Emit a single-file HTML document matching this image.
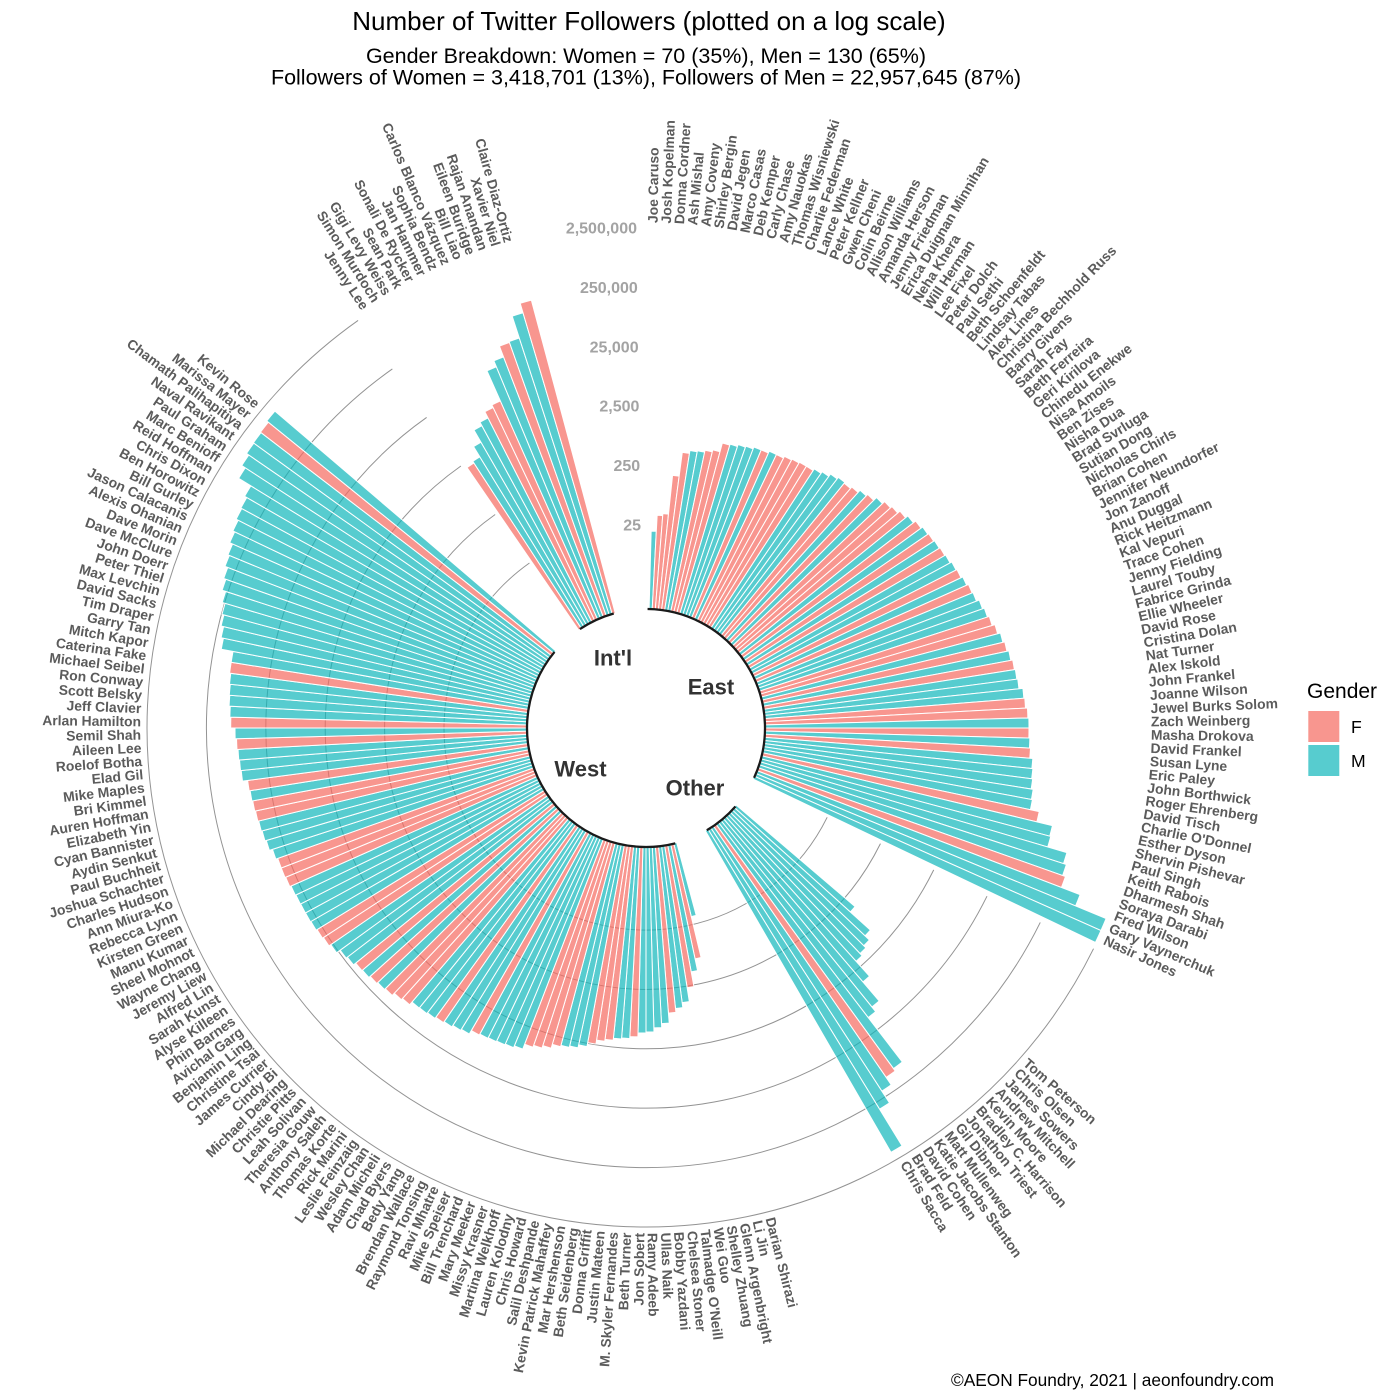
<!DOCTYPE html>
<html><head><meta charset="utf-8"><style>
html,body{margin:0;padding:0;background:#fff}
svg{display:block}
.b path{stroke:#fff;stroke-width:1;vector-effect:non-scaling-stroke}
.f{fill:rgb(245,105,95);fill-opacity:.7}
.m{fill:rgb(15,182,186);fill-opacity:.7}
.n text{font-family:"Liberation Sans",Arial,sans-serif;font-weight:bold;font-size:13.9px;fill:#5b5b5b;dominant-baseline:central}
.n text.l{text-anchor:end}
.t text{font-family:"Liberation Sans",Arial,sans-serif;font-weight:bold;font-size:16px;fill:#a3a3a3;text-anchor:end;dominant-baseline:central}
.g text{font-family:"Liberation Sans",Arial,sans-serif;font-weight:bold;font-size:22px;fill:#333;text-anchor:middle;dominant-baseline:central}
.h text{font-family:"Liberation Sans",Arial,sans-serif;fill:#000}
</style></head><body>
<svg width="1400" height="1400" viewBox="0 0 1400 1400" xmlns="http://www.w3.org/2000/svg">
<rect width="1400" height="1400" fill="#fff"/>
<g fill="none" stroke="#939393" stroke-width="1">
<path d="M827.17 817.34A202 202 0 1 1 529.45 563.01"/>
<path d="M880.44 843.61A261.4 261.4 0 1 1 495.17 514.49"/>
<path d="M933.72 869.89A320.8 320.8 0 1 1 460.90 465.98"/>
<path d="M986.99 896.16A380.2 380.2 0 1 1 426.62 417.46"/>
<path d="M1040.26 922.43A439.6 439.6 0 1 1 392.35 368.94"/>
<path d="M1093.54 948.70A499 499 0 1 1 358.08 320.43"/>
</g>
<g class="b" transform="translate(646 728)">
<path class="m" transform="rotate(2.25)scale(197)" d="M0 0L-.01309-.99991A1 1 0 0 1 .01309-.99991Z"/>
<path class="f" transform="rotate(3.75)scale(213)" d="M0 0L-.01309-.99991A1 1 0 0 1 .01309-.99991Z"/>
<path class="f" transform="rotate(5.25)scale(215)" d="M0 0L-.01309-.99991A1 1 0 0 1 .01309-.99991Z"/>
<path class="f" transform="rotate(6.75)scale(254)" d="M0 0L-.01309-.99991A1 1 0 0 1 .01309-.99991Z"/>
<path class="f" transform="rotate(8.25)scale(278)" d="M0 0L-.01309-.99991A1 1 0 0 1 .01309-.99991Z"/>
<path class="m" transform="rotate(9.75)scale(281)" d="M0 0L-.01309-.99991A1 1 0 0 1 .01309-.99991Z"/>
<path class="m" transform="rotate(11.25)scale(282)" d="M0 0L-.01309-.99991A1 1 0 0 1 .01309-.99991Z"/>
<path class="f" transform="rotate(12.75)scale(284)" d="M0 0L-.01309-.99991A1 1 0 0 1 .01309-.99991Z"/>
<path class="f" transform="rotate(14.25)scale(286)" d="M0 0L-.01309-.99991A1 1 0 0 1 .01309-.99991Z"/>
<path class="f" transform="rotate(15.75)scale(295)" d="M0 0L-.01309-.99991A1 1 0 0 1 .01309-.99991Z"/>
<path class="m" transform="rotate(17.25)scale(296)" d="M0 0L-.01309-.99991A1 1 0 0 1 .01309-.99991Z"/>
<path class="m" transform="rotate(18.75)scale(298)" d="M0 0L-.01309-.99991A1 1 0 0 1 .01309-.99991Z"/>
<path class="m" transform="rotate(20.25)scale(299)" d="M0 0L-.01309-.99991A1 1 0 0 1 .01309-.99991Z"/>
<path class="m" transform="rotate(21.75)scale(301)" d="M0 0L-.01309-.99991A1 1 0 0 1 .01309-.99991Z"/>
<path class="f" transform="rotate(23.25)scale(301)" d="M0 0L-.01309-.99991A1 1 0 0 1 .01309-.99991Z"/>
<path class="m" transform="rotate(24.75)scale(303)" d="M0 0L-.01309-.99991A1 1 0 0 1 .01309-.99991Z"/>
<path class="f" transform="rotate(26.25)scale(303)" d="M0 0L-.01309-.99991A1 1 0 0 1 .01309-.99991Z"/>
<path class="f" transform="rotate(27.75)scale(305)" d="M0 0L-.01309-.99991A1 1 0 0 1 .01309-.99991Z"/>
<path class="f" transform="rotate(29.25)scale(306)" d="M0 0L-.01309-.99991A1 1 0 0 1 .01309-.99991Z"/>
<path class="f" transform="rotate(30.75)scale(307)" d="M0 0L-.01309-.99991A1 1 0 0 1 .01309-.99991Z"/>
<path class="f" transform="rotate(32.25)scale(307)" d="M0 0L-.01309-.99991A1 1 0 0 1 .01309-.99991Z"/>
<path class="m" transform="rotate(33.75)scale(309)" d="M0 0L-.01309-.99991A1 1 0 0 1 .01309-.99991Z"/>
<path class="m" transform="rotate(35.25)scale(311)" d="M0 0L-.01309-.99991A1 1 0 0 1 .01309-.99991Z"/>
<path class="m" transform="rotate(36.75)scale(314)" d="M0 0L-.01309-.99991A1 1 0 0 1 .01309-.99991Z"/>
<path class="m" transform="rotate(38.25)scale(316)" d="M0 0L-.01309-.99991A1 1 0 0 1 .01309-.99991Z"/>
<path class="f" transform="rotate(39.75)scale(315)" d="M0 0L-.01309-.99991A1 1 0 0 1 .01309-.99991Z"/>
<path class="f" transform="rotate(41.25)scale(317)" d="M0 0L-.01309-.99991A1 1 0 0 1 .01309-.99991Z"/>
<path class="m" transform="rotate(42.75)scale(320)" d="M0 0L-.01309-.99991A1 1 0 0 1 .01309-.99991Z"/>
<path class="f" transform="rotate(44.25)scale(322)" d="M0 0L-.01309-.99991A1 1 0 0 1 .01309-.99991Z"/>
<path class="m" transform="rotate(45.75)scale(326)" d="M0 0L-.01309-.99991A1 1 0 0 1 .01309-.99991Z"/>
<path class="f" transform="rotate(47.25)scale(329)" d="M0 0L-.01309-.99991A1 1 0 0 1 .01309-.99991Z"/>
<path class="f" transform="rotate(48.75)scale(331)" d="M0 0L-.01309-.99991A1 1 0 0 1 .01309-.99991Z"/>
<path class="f" transform="rotate(50.25)scale(334)" d="M0 0L-.01309-.99991A1 1 0 0 1 .01309-.99991Z"/>
<path class="m" transform="rotate(51.75)scale(337)" d="M0 0L-.01309-.99991A1 1 0 0 1 .01309-.99991Z"/>
<path class="f" transform="rotate(53.25)scale(340)" d="M0 0L-.01309-.99991A1 1 0 0 1 .01309-.99991Z"/>
<path class="m" transform="rotate(54.75)scale(342)" d="M0 0L-.01309-.99991A1 1 0 0 1 .01309-.99991Z"/>
<path class="f" transform="rotate(56.25)scale(343)" d="M0 0L-.01309-.99991A1 1 0 0 1 .01309-.99991Z"/>
<path class="m" transform="rotate(57.75)scale(344)" d="M0 0L-.01309-.99991A1 1 0 0 1 .01309-.99991Z"/>
<path class="f" transform="rotate(59.25)scale(345)" d="M0 0L-.01309-.99991A1 1 0 0 1 .01309-.99991Z"/>
<path class="m" transform="rotate(60.75)scale(346)" d="M0 0L-.01309-.99991A1 1 0 0 1 .01309-.99991Z"/>
<path class="m" transform="rotate(62.25)scale(348)" d="M0 0L-.01309-.99991A1 1 0 0 1 .01309-.99991Z"/>
<path class="f" transform="rotate(63.75)scale(349)" d="M0 0L-.01309-.99991A1 1 0 0 1 .01309-.99991Z"/>
<path class="m" transform="rotate(65.25)scale(351)" d="M0 0L-.01309-.99991A1 1 0 0 1 .01309-.99991Z"/>
<path class="f" transform="rotate(66.75)scale(353)" d="M0 0L-.01309-.99991A1 1 0 0 1 .01309-.99991Z"/>
<path class="m" transform="rotate(68.25)scale(354)" d="M0 0L-.01309-.99991A1 1 0 0 1 .01309-.99991Z"/>
<path class="m" transform="rotate(69.75)scale(357)" d="M0 0L-.01309-.99991A1 1 0 0 1 .01309-.99991Z"/>
<path class="m" transform="rotate(71.25)scale(359)" d="M0 0L-.01309-.99991A1 1 0 0 1 .01309-.99991Z"/>
<path class="f" transform="rotate(72.75)scale(361)" d="M0 0L-.01309-.99991A1 1 0 0 1 .01309-.99991Z"/>
<path class="f" transform="rotate(74.25)scale(364)" d="M0 0L-.01309-.99991A1 1 0 0 1 .01309-.99991Z"/>
<path class="m" transform="rotate(75.75)scale(367)" d="M0 0L-.01309-.99991A1 1 0 0 1 .01309-.99991Z"/>
<path class="f" transform="rotate(77.25)scale(369)" d="M0 0L-.01309-.99991A1 1 0 0 1 .01309-.99991Z"/>
<path class="m" transform="rotate(78.75)scale(371)" d="M0 0L-.01309-.99991A1 1 0 0 1 .01309-.99991Z"/>
<path class="f" transform="rotate(80.25)scale(373)" d="M0 0L-.01309-.99991A1 1 0 0 1 .01309-.99991Z"/>
<path class="m" transform="rotate(81.75)scale(374)" d="M0 0L-.01309-.99991A1 1 0 0 1 .01309-.99991Z"/>
<path class="m" transform="rotate(83.25)scale(375)" d="M0 0L-.01309-.99991A1 1 0 0 1 .01309-.99991Z"/>
<path class="m" transform="rotate(84.75)scale(379)" d="M0 0L-.01309-.99991A1 1 0 0 1 .01309-.99991Z"/>
<path class="f" transform="rotate(86.25)scale(380)" d="M0 0L-.01309-.99991A1 1 0 0 1 .01309-.99991Z"/>
<path class="f" transform="rotate(87.75)scale(382)" d="M0 0L-.01309-.99991A1 1 0 0 1 .01309-.99991Z"/>
<path class="m" transform="rotate(89.25)scale(383)" d="M0 0L-.01309-.99991A1 1 0 0 1 .01309-.99991Z"/>
<path class="f" transform="rotate(90.75)scale(383)" d="M0 0L-.01309-.99991A1 1 0 0 1 .01309-.99991Z"/>
<path class="m" transform="rotate(92.25)scale(384)" d="M0 0L-.01309-.99991A1 1 0 0 1 .01309-.99991Z"/>
<path class="f" transform="rotate(93.75)scale(385)" d="M0 0L-.01309-.99991A1 1 0 0 1 .01309-.99991Z"/>
<path class="m" transform="rotate(95.25)scale(388)" d="M0 0L-.01309-.99991A1 1 0 0 1 .01309-.99991Z"/>
<path class="m" transform="rotate(96.75)scale(389)" d="M0 0L-.01309-.99991A1 1 0 0 1 .01309-.99991Z"/>
<path class="m" transform="rotate(98.25)scale(390)" d="M0 0L-.01309-.99991A1 1 0 0 1 .01309-.99991Z"/>
<path class="m" transform="rotate(99.75)scale(392)" d="M0 0L-.01309-.99991A1 1 0 0 1 .01309-.99991Z"/>
<path class="m" transform="rotate(101.25)scale(393)" d="M0 0L-.01309-.99991A1 1 0 0 1 .01309-.99991Z"/>
<path class="f" transform="rotate(102.75)scale(402)" d="M0 0L-.01309-.99991A1 1 0 0 1 .01309-.99991Z"/>
<path class="m" transform="rotate(104.25)scale(418)" d="M0 0L-.01309-.99991A1 1 0 0 1 .01309-.99991Z"/>
<path class="m" transform="rotate(105.75)scale(419)" d="M0 0L-.01309-.99991A1 1 0 0 1 .01309-.99991Z"/>
<path class="m" transform="rotate(107.25)scale(439)" d="M0 0L-.01309-.99991A1 1 0 0 1 .01309-.99991Z"/>
<path class="m" transform="rotate(108.75)scale(442)" d="M0 0L-.01309-.99991A1 1 0 0 1 .01309-.99991Z"/>
<path class="f" transform="rotate(110.25)scale(445)" d="M0 0L-.01309-.99991A1 1 0 0 1 .01309-.99991Z"/>
<path class="m" transform="rotate(111.75)scale(465)" d="M0 0L-.01309-.99991A1 1 0 0 1 .01309-.99991Z"/>
<path class="m" transform="rotate(113.25)scale(498)" d="M0 0L-.01309-.99991A1 1 0 0 1 .01309-.99991Z"/>
<path class="m" transform="rotate(114.75)scale(498)" d="M0 0L-.01309-.99991A1 1 0 0 1 .01309-.99991Z"/>
<path class="m" transform="rotate(131.25)scale(275)" d="M0 0L-.01309-.99991A1 1 0 0 1 .01309-.99991Z"/>
<path class="m" transform="rotate(132.75)scale(302)" d="M0 0L-.01309-.99991A1 1 0 0 1 .01309-.99991Z"/>
<path class="m" transform="rotate(134.25)scale(308)" d="M0 0L-.01309-.99991A1 1 0 0 1 .01309-.99991Z"/>
<path class="m" transform="rotate(135.75)scale(311)" d="M0 0L-.01309-.99991A1 1 0 0 1 .01309-.99991Z"/>
<path class="m" transform="rotate(137.25)scale(314)" d="M0 0L-.01309-.99991A1 1 0 0 1 .01309-.99991Z"/>
<path class="m" transform="rotate(138.75)scale(334)" d="M0 0L-.01309-.99991A1 1 0 0 1 .01309-.99991Z"/>
<path class="m" transform="rotate(140.25)scale(359)" d="M0 0L-.01309-.99991A1 1 0 0 1 .01309-.99991Z"/>
<path class="m" transform="rotate(141.75)scale(365)" d="M0 0L-.01309-.99991A1 1 0 0 1 .01309-.99991Z"/>
<path class="m" transform="rotate(143.25)scale(421)" d="M0 0L-.01309-.99991A1 1 0 0 1 .01309-.99991Z"/>
<path class="f" transform="rotate(144.75)scale(424)" d="M0 0L-.01309-.99991A1 1 0 0 1 .01309-.99991Z"/>
<path class="m" transform="rotate(146.25)scale(433)" d="M0 0L-.01309-.99991A1 1 0 0 1 .01309-.99991Z"/>
<path class="m" transform="rotate(147.75)scale(447)" d="M0 0L-.01309-.99991A1 1 0 0 1 .01309-.99991Z"/>
<path class="m" transform="rotate(149.25)scale(490)" d="M0 0L-.01309-.99991A1 1 0 0 1 .01309-.99991Z"/>
<path class="m" transform="rotate(165.75)scale(194)" d="M0 0L-.01309-.99991A1 1 0 0 1 .01309-.99991Z"/>
<path class="f" transform="rotate(167.25)scale(236)" d="M0 0L-.01309-.99991A1 1 0 0 1 .01309-.99991Z"/>
<path class="m" transform="rotate(168.75)scale(248)" d="M0 0L-.01309-.99991A1 1 0 0 1 .01309-.99991Z"/>
<path class="f" transform="rotate(170.25)scale(263)" d="M0 0L-.01309-.99991A1 1 0 0 1 .01309-.99991Z"/>
<path class="m" transform="rotate(171.75)scale(277)" d="M0 0L-.01309-.99991A1 1 0 0 1 .01309-.99991Z"/>
<path class="m" transform="rotate(173.25)scale(282)" d="M0 0L-.01309-.99991A1 1 0 0 1 .01309-.99991Z"/>
<path class="f" transform="rotate(174.75)scale(286)" d="M0 0L-.01309-.99991A1 1 0 0 1 .01309-.99991Z"/>
<path class="m" transform="rotate(176.25)scale(296)" d="M0 0L-.01309-.99991A1 1 0 0 1 .01309-.99991Z"/>
<path class="m" transform="rotate(177.75)scale(300)" d="M0 0L-.01309-.99991A1 1 0 0 1 .01309-.99991Z"/>
<path class="m" transform="rotate(179.25)scale(304)" d="M0 0L-.01309-.99991A1 1 0 0 1 .01309-.99991Z"/>
<path class="m" transform="rotate(180.75)scale(305)" d="M0 0L-.01309-.99991A1 1 0 0 1 .01309-.99991Z"/>
<path class="f" transform="rotate(182.25)scale(309)" d="M0 0L-.01309-.99991A1 1 0 0 1 .01309-.99991Z"/>
<path class="m" transform="rotate(183.75)scale(311)" d="M0 0L-.01309-.99991A1 1 0 0 1 .01309-.99991Z"/>
<path class="m" transform="rotate(185.25)scale(312)" d="M0 0L-.01309-.99991A1 1 0 0 1 .01309-.99991Z"/>
<path class="f" transform="rotate(186.75)scale(314)" d="M0 0L-.01309-.99991A1 1 0 0 1 .01309-.99991Z"/>
<path class="f" transform="rotate(188.25)scale(316)" d="M0 0L-.01309-.99991A1 1 0 0 1 .01309-.99991Z"/>
<path class="f" transform="rotate(189.75)scale(320)" d="M0 0L-.01309-.99991A1 1 0 0 1 .01309-.99991Z"/>
<path class="m" transform="rotate(191.25)scale(324)" d="M0 0L-.01309-.99991A1 1 0 0 1 .01309-.99991Z"/>
<path class="m" transform="rotate(192.75)scale(327)" d="M0 0L-.01309-.99991A1 1 0 0 1 .01309-.99991Z"/>
<path class="m" transform="rotate(194.25)scale(328.5)" d="M0 0L-.01309-.99991A1 1 0 0 1 .01309-.99991Z"/>
<path class="f" transform="rotate(195.75)scale(330)" d="M0 0L-.01309-.99991A1 1 0 0 1 .01309-.99991Z"/>
<path class="f" transform="rotate(197.25)scale(334)" d="M0 0L-.01309-.99991A1 1 0 0 1 .01309-.99991Z"/>
<path class="f" transform="rotate(198.75)scale(336.6)" d="M0 0L-.01309-.99991A1 1 0 0 1 .01309-.99991Z"/>
<path class="f" transform="rotate(200.25)scale(338.7)" d="M0 0L-.01309-.99991A1 1 0 0 1 .01309-.99991Z"/>
<path class="m" transform="rotate(201.75)scale(344)" d="M0 0L-.01309-.99991A1 1 0 0 1 .01309-.99991Z"/>
<path class="m" transform="rotate(203.25)scale(346)" d="M0 0L-.01309-.99991A1 1 0 0 1 .01309-.99991Z"/>
<path class="m" transform="rotate(204.75)scale(346.8)" d="M0 0L-.01309-.99991A1 1 0 0 1 .01309-.99991Z"/>
<path class="m" transform="rotate(206.25)scale(347.6)" d="M0 0L-.01309-.99991A1 1 0 0 1 .01309-.99991Z"/>
<path class="m" transform="rotate(207.75)scale(348.3)" d="M0 0L-.01309-.99991A1 1 0 0 1 .01309-.99991Z"/>
<path class="f" transform="rotate(209.25)scale(349.4)" d="M0 0L-.01309-.99991A1 1 0 0 1 .01309-.99991Z"/>
<path class="m" transform="rotate(210.75)scale(353.4)" d="M0 0L-.01309-.99991A1 1 0 0 1 .01309-.99991Z"/>
<path class="m" transform="rotate(212.25)scale(354.7)" d="M0 0L-.01309-.99991A1 1 0 0 1 .01309-.99991Z"/>
<path class="m" transform="rotate(213.75)scale(356.4)" d="M0 0L-.01309-.99991A1 1 0 0 1 .01309-.99991Z"/>
<path class="f" transform="rotate(215.25)scale(357.6)" d="M0 0L-.01309-.99991A1 1 0 0 1 .01309-.99991Z"/>
<path class="m" transform="rotate(216.75)scale(359)" d="M0 0L-.01309-.99991A1 1 0 0 1 .01309-.99991Z"/>
<path class="m" transform="rotate(218.25)scale(360)" d="M0 0L-.01309-.99991A1 1 0 0 1 .01309-.99991Z"/>
<path class="m" transform="rotate(219.75)scale(360.4)" d="M0 0L-.01309-.99991A1 1 0 0 1 .01309-.99991Z"/>
<path class="f" transform="rotate(221.25)scale(364)" d="M0 0L-.01309-.99991A1 1 0 0 1 .01309-.99991Z"/>
<path class="f" transform="rotate(222.75)scale(365.6)" d="M0 0L-.01309-.99991A1 1 0 0 1 .01309-.99991Z"/>
<path class="f" transform="rotate(224.25)scale(368.7)" d="M0 0L-.01309-.99991A1 1 0 0 1 .01309-.99991Z"/>
<path class="m" transform="rotate(225.75)scale(369.8)" d="M0 0L-.01309-.99991A1 1 0 0 1 .01309-.99991Z"/>
<path class="f" transform="rotate(227.25)scale(371.2)" d="M0 0L-.01309-.99991A1 1 0 0 1 .01309-.99991Z"/>
<path class="m" transform="rotate(228.75)scale(372.9)" d="M0 0L-.01309-.99991A1 1 0 0 1 .01309-.99991Z"/>
<path class="f" transform="rotate(230.25)scale(373.6)" d="M0 0L-.01309-.99991A1 1 0 0 1 .01309-.99991Z"/>
<path class="m" transform="rotate(231.75)scale(376.4)" d="M0 0L-.01309-.99991A1 1 0 0 1 .01309-.99991Z"/>
<path class="m" transform="rotate(233.25)scale(378)" d="M0 0L-.01309-.99991A1 1 0 0 1 .01309-.99991Z"/>
<path class="m" transform="rotate(234.75)scale(382.5)" d="M0 0L-.01309-.99991A1 1 0 0 1 .01309-.99991Z"/>
<path class="f" transform="rotate(236.25)scale(384.7)" d="M0 0L-.01309-.99991A1 1 0 0 1 .01309-.99991Z"/>
<path class="f" transform="rotate(237.75)scale(385.8)" d="M0 0L-.01309-.99991A1 1 0 0 1 .01309-.99991Z"/>
<path class="m" transform="rotate(239.25)scale(386.9)" d="M0 0L-.01309-.99991A1 1 0 0 1 .01309-.99991Z"/>
<path class="m" transform="rotate(240.75)scale(387.5)" d="M0 0L-.01309-.99991A1 1 0 0 1 .01309-.99991Z"/>
<path class="m" transform="rotate(242.25)scale(387.6)" d="M0 0L-.01309-.99991A1 1 0 0 1 .01309-.99991Z"/>
<path class="m" transform="rotate(243.75)scale(387.9)" d="M0 0L-.01309-.99991A1 1 0 0 1 .01309-.99991Z"/>
<path class="m" transform="rotate(245.25)scale(388.5)" d="M0 0L-.01309-.99991A1 1 0 0 1 .01309-.99991Z"/>
<path class="f" transform="rotate(246.75)scale(390)" d="M0 0L-.01309-.99991A1 1 0 0 1 .01309-.99991Z"/>
<path class="f" transform="rotate(248.25)scale(390.7)" d="M0 0L-.01309-.99991A1 1 0 0 1 .01309-.99991Z"/>
<path class="f" transform="rotate(249.75)scale(390.7)" d="M0 0L-.01309-.99991A1 1 0 0 1 .01309-.99991Z"/>
<path class="m" transform="rotate(251.25)scale(392.7)" d="M0 0L-.01309-.99991A1 1 0 0 1 .01309-.99991Z"/>
<path class="m" transform="rotate(252.75)scale(396)" d="M0 0L-.01309-.99991A1 1 0 0 1 .01309-.99991Z"/>
<path class="m" transform="rotate(254.25)scale(397.4)" d="M0 0L-.01309-.99991A1 1 0 0 1 .01309-.99991Z"/>
<path class="m" transform="rotate(255.75)scale(398.3)" d="M0 0L-.01309-.99991A1 1 0 0 1 .01309-.99991Z"/>
<path class="f" transform="rotate(257.25)scale(399.2)" d="M0 0L-.01309-.99991A1 1 0 0 1 .01309-.99991Z"/>
<path class="f" transform="rotate(258.75)scale(400)" d="M0 0L-.01309-.99991A1 1 0 0 1 .01309-.99991Z"/>
<path class="m" transform="rotate(260.25)scale(400.8)" d="M0 0L-.01309-.99991A1 1 0 0 1 .01309-.99991Z"/>
<path class="f" transform="rotate(261.75)scale(401.8)" d="M0 0L-.01309-.99991A1 1 0 0 1 .01309-.99991Z"/>
<path class="m" transform="rotate(263.25)scale(407)" d="M0 0L-.01309-.99991A1 1 0 0 1 .01309-.99991Z"/>
<path class="m" transform="rotate(264.75)scale(407.7)" d="M0 0L-.01309-.99991A1 1 0 0 1 .01309-.99991Z"/>
<path class="m" transform="rotate(266.25)scale(408.5)" d="M0 0L-.01309-.99991A1 1 0 0 1 .01309-.99991Z"/>
<path class="f" transform="rotate(267.75)scale(409.6)" d="M0 0L-.01309-.99991A1 1 0 0 1 .01309-.99991Z"/>
<path class="m" transform="rotate(269.25)scale(411)" d="M0 0L-.01309-.99991A1 1 0 0 1 .01309-.99991Z"/>
<path class="f" transform="rotate(270.75)scale(415.3)" d="M0 0L-.01309-.99991A1 1 0 0 1 .01309-.99991Z"/>
<path class="m" transform="rotate(272.25)scale(416.3)" d="M0 0L-.01309-.99991A1 1 0 0 1 .01309-.99991Z"/>
<path class="m" transform="rotate(273.75)scale(417.5)" d="M0 0L-.01309-.99991A1 1 0 0 1 .01309-.99991Z"/>
<path class="m" transform="rotate(275.25)scale(418)" d="M0 0L-.01309-.99991A1 1 0 0 1 .01309-.99991Z"/>
<path class="m" transform="rotate(276.75)scale(418.8)" d="M0 0L-.01309-.99991A1 1 0 0 1 .01309-.99991Z"/>
<path class="f" transform="rotate(278.25)scale(420)" d="M0 0L-.01309-.99991A1 1 0 0 1 .01309-.99991Z"/>
<path class="m" transform="rotate(279.75)scale(420)" d="M0 0L-.01309-.99991A1 1 0 0 1 .01309-.99991Z"/>
<path class="m" transform="rotate(281.25)scale(432)" d="M0 0L-.01309-.99991A1 1 0 0 1 .01309-.99991Z"/>
<path class="m" transform="rotate(282.75)scale(434.4)" d="M0 0L-.01309-.99991A1 1 0 0 1 .01309-.99991Z"/>
<path class="m" transform="rotate(284.25)scale(437)" d="M0 0L-.01309-.99991A1 1 0 0 1 .01309-.99991Z"/>
<path class="m" transform="rotate(285.75)scale(439)" d="M0 0L-.01309-.99991A1 1 0 0 1 .01309-.99991Z"/>
<path class="m" transform="rotate(287.25)scale(442)" d="M0 0L-.01309-.99991A1 1 0 0 1 .01309-.99991Z"/>
<path class="m" transform="rotate(288.75)scale(445.7)" d="M0 0L-.01309-.99991A1 1 0 0 1 .01309-.99991Z"/>
<path class="m" transform="rotate(290.25)scale(448)" d="M0 0L-.01309-.99991A1 1 0 0 1 .01309-.99991Z"/>
<path class="m" transform="rotate(291.75)scale(451)" d="M0 0L-.01309-.99991A1 1 0 0 1 .01309-.99991Z"/>
<path class="m" transform="rotate(293.25)scale(452.5)" d="M0 0L-.01309-.99991A1 1 0 0 1 .01309-.99991Z"/>
<path class="m" transform="rotate(294.75)scale(455.7)" d="M0 0L-.01309-.99991A1 1 0 0 1 .01309-.99991Z"/>
<path class="m" transform="rotate(296.25)scale(457.7)" d="M0 0L-.01309-.99991A1 1 0 0 1 .01309-.99991Z"/>
<path class="m" transform="rotate(297.75)scale(460)" d="M0 0L-.01309-.99991A1 1 0 0 1 .01309-.99991Z"/>
<path class="m" transform="rotate(299.25)scale(461)" d="M0 0L-.01309-.99991A1 1 0 0 1 .01309-.99991Z"/>
<path class="m" transform="rotate(300.75)scale(463.5)" d="M0 0L-.01309-.99991A1 1 0 0 1 .01309-.99991Z"/>
<path class="m" transform="rotate(302.25)scale(477.8)" d="M0 0L-.01309-.99991A1 1 0 0 1 .01309-.99991Z"/>
<path class="m" transform="rotate(303.75)scale(482)" d="M0 0L-.01309-.99991A1 1 0 0 1 .01309-.99991Z"/>
<path class="m" transform="rotate(305.25)scale(484.8)" d="M0 0L-.01309-.99991A1 1 0 0 1 .01309-.99991Z"/>
<path class="m" transform="rotate(306.75)scale(485.3)" d="M0 0L-.01309-.99991A1 1 0 0 1 .01309-.99991Z"/>
<path class="f" transform="rotate(308.25)scale(486)" d="M0 0L-.01309-.99991A1 1 0 0 1 .01309-.99991Z"/>
<path class="m" transform="rotate(309.75)scale(488)" d="M0 0L-.01309-.99991A1 1 0 0 1 .01309-.99991Z"/>
<path class="f" transform="rotate(326.25)scale(316)" d="M0 0L-.01309-.99991A1 1 0 0 1 .01309-.99991Z"/>
<path class="m" transform="rotate(327.75)scale(318)" d="M0 0L-.01309-.99991A1 1 0 0 1 .01309-.99991Z"/>
<path class="m" transform="rotate(329.25)scale(330)" d="M0 0L-.01309-.99991A1 1 0 0 1 .01309-.99991Z"/>
<path class="m" transform="rotate(330.75)scale(344)" d="M0 0L-.01309-.99991A1 1 0 0 1 .01309-.99991Z"/>
<path class="m" transform="rotate(332.25)scale(348)" d="M0 0L-.01309-.99991A1 1 0 0 1 .01309-.99991Z"/>
<path class="f" transform="rotate(333.75)scale(355)" d="M0 0L-.01309-.99991A1 1 0 0 1 .01309-.99991Z"/>
<path class="f" transform="rotate(335.25)scale(358)" d="M0 0L-.01309-.99991A1 1 0 0 1 .01309-.99991Z"/>
<path class="m" transform="rotate(336.75)scale(391)" d="M0 0L-.01309-.99991A1 1 0 0 1 .01309-.99991Z"/>
<path class="m" transform="rotate(338.25)scale(397.5)" d="M0 0L-.01309-.99991A1 1 0 0 1 .01309-.99991Z"/>
<path class="f" transform="rotate(339.75)scale(409)" d="M0 0L-.01309-.99991A1 1 0 0 1 .01309-.99991Z"/>
<path class="m" transform="rotate(341.25)scale(410)" d="M0 0L-.01309-.99991A1 1 0 0 1 .01309-.99991Z"/>
<path class="m" transform="rotate(342.75)scale(433)" d="M0 0L-.01309-.99991A1 1 0 0 1 .01309-.99991Z"/>
<path class="f" transform="rotate(344.25)scale(443)" d="M0 0L-.01309-.99991A1 1 0 0 1 .01309-.99991Z"/>
</g>
<circle cx="646" cy="728" r="119" fill="#fff"/>
<g fill="none" stroke="#1a1a1a" stroke-width="2.3">
<path d="M647.56 609.01A119 119 0 0 1 754.07 777.82"/>
<path d="M735.47 806.46A119 119 0 0 1 706.84 830.27"/>
<path d="M675.29 843.34A119 119 0 0 1 554.49 651.93"/>
<path d="M579.89 629.06A119 119 0 0 1 613.70 613.47"/>
</g>
<g class="t">
<text x="641" y="526">25</text>
<text x="640.2" y="466.6">250</text>
<text x="639.4" y="407.2">2,500</text>
<text x="638.6" y="347.8">25,000</text>
<text x="637.8" y="288.4">250,000</text>
<text x="637" y="229">2,500,000</text>
</g>
<g class="g">
<text x="613" y="658">Int'l</text>
<text x="711" y="687">East</text>
<text x="580.5" y="769">West</text>
<text x="695" y="788">Other</text>
</g>
<g class="n" transform="translate(646 728)">
<text transform="rotate(-89.25)" x="505">Joe Caruso</text>
<text transform="rotate(-87.75)" x="505">Josh Kopelman</text>
<text transform="rotate(-86.25)" x="505">Donna Cordner</text>
<text transform="rotate(-84.75)" x="505">Ash Mishal</text>
<text transform="rotate(-83.25)" x="505">Amy Coveny</text>
<text transform="rotate(-81.75)" x="505">Shirley Bergin</text>
<text transform="rotate(-80.25)" x="505">David Jegen</text>
<text transform="rotate(-78.75)" x="505">Marco Casas</text>
<text transform="rotate(-77.25)" x="505">Deb Kemper</text>
<text transform="rotate(-75.75)" x="505">Carly Chase</text>
<text transform="rotate(-74.25)" x="505">Amy Nauokas</text>
<text transform="rotate(-72.75)" x="505">Thomas Wisniewski</text>
<text transform="rotate(-71.25)" x="505">Charlie Federman</text>
<text transform="rotate(-69.75)" x="505">Lance White</text>
<text transform="rotate(-68.25)" x="505">Peter Kellner</text>
<text transform="rotate(-66.75)" x="505">Gwen Cheni</text>
<text transform="rotate(-65.25)" x="505">Colin Beirne</text>
<text transform="rotate(-63.75)" x="505">Allison Williams</text>
<text transform="rotate(-62.25)" x="505">Amanda Herson</text>
<text transform="rotate(-60.75)" x="505">Jenny Friedman</text>
<text transform="rotate(-59.25)" x="505">Erica Duignan Minnihan</text>
<text transform="rotate(-57.75)" x="505">Neha Khera</text>
<text transform="rotate(-56.25)" x="505">Will Herman</text>
<text transform="rotate(-54.75)" x="505">Lee Fixel</text>
<text transform="rotate(-53.25)" x="505">Peter Dolch</text>
<text transform="rotate(-51.75)" x="505">Paul Sethi</text>
<text transform="rotate(-50.25)" x="505">Beth Schoenfeldt</text>
<text transform="rotate(-48.75)" x="505">Lindsay Tabas</text>
<text transform="rotate(-47.25)" x="505">Alex Lines</text>
<text transform="rotate(-45.75)" x="505">Christina Bechhold Russ</text>
<text transform="rotate(-44.25)" x="505">Barry Givens</text>
<text transform="rotate(-42.75)" x="505">Sarah Fay</text>
<text transform="rotate(-41.25)" x="505">Beth Ferreira</text>
<text transform="rotate(-39.75)" x="505">Geri Kirilova</text>
<text transform="rotate(-38.25)" x="505">Chinedu Enekwe</text>
<text transform="rotate(-36.75)" x="505">Nisa Amoils</text>
<text transform="rotate(-35.25)" x="505">Ben Zises</text>
<text transform="rotate(-33.75)" x="505">Nisha Dua</text>
<text transform="rotate(-32.25)" x="505">Brad Svrluga</text>
<text transform="rotate(-30.75)" x="505">Sutian Dong</text>
<text transform="rotate(-29.25)" x="505">Nicholas Chirls</text>
<text transform="rotate(-27.75)" x="505">Brian Cohen</text>
<text transform="rotate(-26.25)" x="505">Jennifer Neundorfer</text>
<text transform="rotate(-24.75)" x="505">Jon Zanoff</text>
<text transform="rotate(-23.25)" x="505">Anu Duggal</text>
<text transform="rotate(-21.75)" x="505">Rick Heitzmann</text>
<text transform="rotate(-20.25)" x="505">Kal Vepuri</text>
<text transform="rotate(-18.75)" x="505">Trace Cohen</text>
<text transform="rotate(-17.25)" x="505">Jenny Fielding</text>
<text transform="rotate(-15.75)" x="505">Laurel Touby</text>
<text transform="rotate(-14.25)" x="505">Fabrice Grinda</text>
<text transform="rotate(-12.75)" x="505">Ellie Wheeler</text>
<text transform="rotate(-11.25)" x="505">David Rose</text>
<text transform="rotate(-9.75)" x="505">Cristina Dolan</text>
<text transform="rotate(-8.25)" x="505">Nat Turner</text>
<text transform="rotate(-6.75)" x="505">Alex Iskold</text>
<text transform="rotate(-5.25)" x="505">John Frankel</text>
<text transform="rotate(-3.75)" x="505">Joanne Wilson</text>
<text transform="rotate(-2.25)" x="505">Jewel Burks Solom</text>
<text transform="rotate(-0.75)" x="505">Zach Weinberg</text>
<text transform="rotate(0.75)" x="505">Masha Drokova</text>
<text transform="rotate(2.25)" x="505">David Frankel</text>
<text transform="rotate(3.75)" x="505">Susan Lyne</text>
<text transform="rotate(5.25)" x="505">Eric Paley</text>
<text transform="rotate(6.75)" x="505">John Borthwick</text>
<text transform="rotate(8.25)" x="505">Roger Ehrenberg</text>
<text transform="rotate(9.75)" x="505">David Tisch</text>
<text transform="rotate(11.25)" x="505">Charlie O'Donnel</text>
<text transform="rotate(12.75)" x="505">Esther Dyson</text>
<text transform="rotate(14.25)" x="505">Shervin Pishevar</text>
<text transform="rotate(15.75)" x="505">Paul Singh</text>
<text transform="rotate(17.25)" x="505">Keith Rabois</text>
<text transform="rotate(18.75)" x="505">Dharmesh Shah</text>
<text transform="rotate(20.25)" x="505">Soraya Darabi</text>
<text transform="rotate(21.75)" x="505">Fred Wilson</text>
<text transform="rotate(23.25)" x="505">Gary Vaynerchuk</text>
<text transform="rotate(24.75)" x="505">Nasir Jones</text>
<text transform="rotate(41.25)" x="505">Tom Peterson</text>
<text transform="rotate(42.75)" x="505">Chris Olsen</text>
<text transform="rotate(44.25)" x="505">James Sowers</text>
<text transform="rotate(45.75)" x="505">Andrew Mitchell</text>
<text transform="rotate(47.25)" x="505">Kevin Moore</text>
<text transform="rotate(48.75)" x="505">Bradley C. Harrison</text>
<text transform="rotate(50.25)" x="505">Jonathon Triest</text>
<text transform="rotate(51.75)" x="505">Gil Dibner</text>
<text transform="rotate(53.25)" x="505">Matt Mullenweg</text>
<text transform="rotate(54.75)" x="505">Katie Jacobs Stanton</text>
<text transform="rotate(56.25)" x="505">David Cohen</text>
<text transform="rotate(57.75)" x="505">Brad Feld</text>
<text transform="rotate(59.25)" x="505">Chris Sacca</text>
<text transform="rotate(75.75)" x="505">Darian Shirazi</text>
<text transform="rotate(77.25)" x="505">Li Jin</text>
<text transform="rotate(78.75)" x="505">Glenn Argenbright</text>
<text transform="rotate(80.25)" x="505">Shelley Zhuang</text>
<text transform="rotate(81.75)" x="505">Wei Guo</text>
<text transform="rotate(83.25)" x="505">Talmadge O'Neill</text>
<text transform="rotate(84.75)" x="505">Chelsea Stoner</text>
<text transform="rotate(86.25)" x="505">Bobby Yazdani</text>
<text transform="rotate(87.75)" x="505">Ullas Naik</text>
<text transform="rotate(89.25)" x="505">Ramy Adeeb</text>
<text class="l" transform="rotate(-89.25)" x="-505">Jon Sobert</text>
<text class="l" transform="rotate(-87.75)" x="-505">Beth Turner</text>
<text class="l" transform="rotate(-86.25)" x="-505">M. Skyler Fernandes</text>
<text class="l" transform="rotate(-84.75)" x="-505">Justin Mateen</text>
<text class="l" transform="rotate(-83.25)" x="-505">Donna Griffit</text>
<text class="l" transform="rotate(-81.75)" x="-505">Beth Seidenberg</text>
<text class="l" transform="rotate(-80.25)" x="-505">Mar Hershenson</text>
<text class="l" transform="rotate(-78.75)" x="-505">Kevin Patrick Mahaffey</text>
<text class="l" transform="rotate(-77.25)" x="-505">Salil Deshpande</text>
<text class="l" transform="rotate(-75.75)" x="-505">Chris Howard</text>
<text class="l" transform="rotate(-74.25)" x="-505">Lauren Kolodny</text>
<text class="l" transform="rotate(-72.75)" x="-505">Martina Welkhoff</text>
<text class="l" transform="rotate(-71.25)" x="-505">Missy Krasner</text>
<text class="l" transform="rotate(-69.75)" x="-505">Mary Meeker</text>
<text class="l" transform="rotate(-68.25)" x="-505">Bill Trenchard</text>
<text class="l" transform="rotate(-66.75)" x="-505">Mike Speiser</text>
<text class="l" transform="rotate(-65.25)" x="-505">Ravi Mhatre</text>
<text class="l" transform="rotate(-63.75)" x="-505">Raymond Tonsing</text>
<text class="l" transform="rotate(-62.25)" x="-505">Brendan Wallace</text>
<text class="l" transform="rotate(-60.75)" x="-505">Bedy Yang</text>
<text class="l" transform="rotate(-59.25)" x="-505">Chad Byers</text>
<text class="l" transform="rotate(-57.75)" x="-505">Adam Micheli</text>
<text class="l" transform="rotate(-56.25)" x="-505">Wesley Chan</text>
<text class="l" transform="rotate(-54.75)" x="-505">Leslie Feinzaig</text>
<text class="l" transform="rotate(-53.25)" x="-505">Rick Marini</text>
<text class="l" transform="rotate(-51.75)" x="-505">Thomas Korte</text>
<text class="l" transform="rotate(-50.25)" x="-505">Anthony Saleh</text>
<text class="l" transform="rotate(-48.75)" x="-505">Theresia Gouw</text>
<text class="l" transform="rotate(-47.25)" x="-505">Leah Solivan</text>
<text class="l" transform="rotate(-45.75)" x="-505">Christie Pitts</text>
<text class="l" transform="rotate(-44.25)" x="-505">Michael Dearing</text>
<text class="l" transform="rotate(-42.75)" x="-505">Cindy Bi</text>
<text class="l" transform="rotate(-41.25)" x="-505">James Currier</text>
<text class="l" transform="rotate(-39.75)" x="-505">Christine Tsai</text>
<text class="l" transform="rotate(-38.25)" x="-505">Benjamin Ling</text>
<text class="l" transform="rotate(-36.75)" x="-505">Avichal Garg</text>
<text class="l" transform="rotate(-35.25)" x="-505">Phin Barnes</text>
<text class="l" transform="rotate(-33.75)" x="-505">Alyse Killeen</text>
<text class="l" transform="rotate(-32.25)" x="-505">Sarah Kunst</text>
<text class="l" transform="rotate(-30.75)" x="-505">Alfred Lin</text>
<text class="l" transform="rotate(-29.25)" x="-505">Jeremy Liew</text>
<text class="l" transform="rotate(-27.75)" x="-505">Wayne Chang</text>
<text class="l" transform="rotate(-26.25)" x="-505">Sheel Mohnot</text>
<text class="l" transform="rotate(-24.75)" x="-505">Manu Kumar</text>
<text class="l" transform="rotate(-23.25)" x="-505">Kirsten Green</text>
<text class="l" transform="rotate(-21.75)" x="-505">Rebecca Lynn</text>
<text class="l" transform="rotate(-20.25)" x="-505">Ann Miura-Ko</text>
<text class="l" transform="rotate(-18.75)" x="-505">Charles Hudson</text>
<text class="l" transform="rotate(-17.25)" x="-505">Joshua Schachter</text>
<text class="l" transform="rotate(-15.75)" x="-505">Paul Buchheit</text>
<text class="l" transform="rotate(-14.25)" x="-505">Aydin Senkut</text>
<text class="l" transform="rotate(-12.75)" x="-505">Cyan Bannister</text>
<text class="l" transform="rotate(-11.25)" x="-505">Elizabeth Yin</text>
<text class="l" transform="rotate(-9.75)" x="-505">Auren Hoffman</text>
<text class="l" transform="rotate(-8.25)" x="-505">Bri Kimmel</text>
<text class="l" transform="rotate(-6.75)" x="-505">Mike Maples</text>
<text class="l" transform="rotate(-5.25)" x="-505">Elad Gil</text>
<text class="l" transform="rotate(-3.75)" x="-505">Roelof Botha</text>
<text class="l" transform="rotate(-2.25)" x="-505">Aileen Lee</text>
<text class="l" transform="rotate(-0.75)" x="-505">Semil Shah</text>
<text class="l" transform="rotate(0.75)" x="-505">Arlan Hamilton</text>
<text class="l" transform="rotate(2.25)" x="-505">Jeff Clavier</text>
<text class="l" transform="rotate(3.75)" x="-505">Scott Belsky</text>
<text class="l" transform="rotate(5.25)" x="-505">Ron Conway</text>
<text class="l" transform="rotate(6.75)" x="-505">Michael Seibel</text>
<text class="l" transform="rotate(8.25)" x="-505">Caterina Fake</text>
<text class="l" transform="rotate(9.75)" x="-505">Mitch Kapor</text>
<text class="l" transform="rotate(11.25)" x="-505">Garry Tan</text>
<text class="l" transform="rotate(12.75)" x="-505">Tim Draper</text>
<text class="l" transform="rotate(14.25)" x="-505">David Sacks</text>
<text class="l" transform="rotate(15.75)" x="-505">Max Levchin</text>
<text class="l" transform="rotate(17.25)" x="-505">Peter Thiel</text>
<text class="l" transform="rotate(18.75)" x="-505">John Doerr</text>
<text class="l" transform="rotate(20.25)" x="-505">Dave McClure</text>
<text class="l" transform="rotate(21.75)" x="-505">Dave Morin</text>
<text class="l" transform="rotate(23.25)" x="-505">Alexis Ohanian</text>
<text class="l" transform="rotate(24.75)" x="-505">Jason Calacanis</text>
<text class="l" transform="rotate(26.25)" x="-505">Bill Gurley</text>
<text class="l" transform="rotate(27.75)" x="-505">Ben Horowitz</text>
<text class="l" transform="rotate(29.25)" x="-505">Chris Dixon</text>
<text class="l" transform="rotate(30.75)" x="-505">Reid Hoffman</text>
<text class="l" transform="rotate(32.25)" x="-505">Marc Benioff</text>
<text class="l" transform="rotate(33.75)" x="-505">Paul Graham</text>
<text class="l" transform="rotate(35.25)" x="-505">Naval Ravikant</text>
<text class="l" transform="rotate(36.75)" x="-505">Chamath Palihapitiya</text>
<text class="l" transform="rotate(38.25)" x="-505">Marissa Mayer</text>
<text class="l" transform="rotate(39.75)" x="-505">Kevin Rose</text>
<text class="l" transform="rotate(56.25)" x="-505">Jenny Lee</text>
<text class="l" transform="rotate(57.75)" x="-505">Simon Murdoch</text>
<text class="l" transform="rotate(59.25)" x="-505">Gigi Levy Weiss</text>
<text class="l" transform="rotate(60.75)" x="-505">Sean Park</text>
<text class="l" transform="rotate(62.25)" x="-505">Sonali De Rycker</text>
<text class="l" transform="rotate(63.75)" x="-505">Jan Hammer</text>
<text class="l" transform="rotate(65.25)" x="-505">Sophia Bendz</text>
<text class="l" transform="rotate(66.75)" x="-505">Carlos Blanco Vázquez</text>
<text class="l" transform="rotate(68.25)" x="-505">Bill Liao</text>
<text class="l" transform="rotate(69.75)" x="-505">Eileen Buridge</text>
<text class="l" transform="rotate(71.25)" x="-505">Rajan Anandan</text>
<text class="l" transform="rotate(72.75)" x="-505">Xavier Niel</text>
<text class="l" transform="rotate(74.25)" x="-505">Claire Diaz-Ortiz</text>
</g>
<g class="h">
<text x="649" y="30" font-size="26" text-anchor="middle">Number of Twitter Followers (plotted on a log scale)</text>
<text x="646" y="63" font-size="21.5" text-anchor="middle">Gender Breakdown: Women = 70 (35%), Men = 130 (65%)</text>
<text x="646" y="84.5" font-size="21.5" text-anchor="middle">Followers of Women = 3,418,701 (13%), Followers of Men = 22,957,645 (87%)</text>
<text x="1307" y="698" font-size="21">Gender</text>
<text x="1351" y="727" font-size="17.6" dominant-baseline="central">F</text>
<text x="1351" y="761" font-size="17.6" dominant-baseline="central">M</text>
<text x="1274" y="1386" font-size="17.3" text-anchor="end">©AEON Foundry, 2021 | aeonfoundry.com</text>
</g>
<rect x="1308.3" y="711" width="31" height="31" fill="#F8968F"/>
<rect x="1308.3" y="745" width="31" height="31" fill="#57CCCF"/>
</svg>
</body></html>
